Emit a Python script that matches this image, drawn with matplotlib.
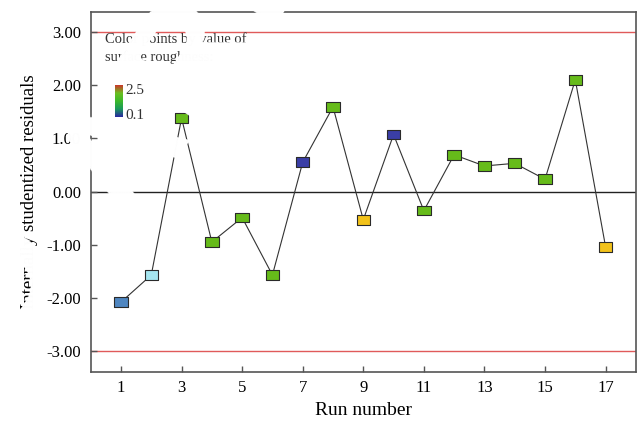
import matplotlib
matplotlib.use("Agg")
import matplotlib.pyplot as plt
import numpy as np
from matplotlib.path import Path
from matplotlib.colors import LinearSegmentedColormap

# ----------------------------
# Data
# ----------------------------

runs = [1, 2, 3, 4, 5, 6, 7, 8, 9, 10, 11, 12, 13, 14, 15, 16, 17]

residuals = [-2.08, -1.57, 1.38, -0.95, -0.49, -1.57, 0.55, 1.59, -0.53,
             1.07, -0.36, 0.69, 0.48, 0.53, 0.23, 2.10, -1.04]

point_colors = ["#4f86c0", "#a6e6f0", "#66bb1a", "#66bb1a", "#66bb1a",
                "#66bb1a", "#3a3ea6", "#66bb1a", "#f2c21a", "#3a3ea6",
                "#66bb1a", "#66bb1a", "#66bb1a", "#66bb1a", "#66bb1a",
                "#66bb1a", "#f2c21a"]

y_ticks = [-3, -2, -1, 0, 1, 2, 3]
x_ticks = [1, 3, 5, 7, 9, 11, 13, 15, 17]
limit = 3.0

legend_title = "Color points by value of\nsurface roughness:"
legend_hi = "2.5"
legend_lo = "0.1"

# watermark letters and their cap centres (pixels from top-left)
wm_letters = ["D", "A", "R", "E"]
wm_centres = [(-8, 268), (114, 150), (176, 47), (247, -48)]


def main():
    plt.rcParams["font.family"] = ["Liberation Serif", "DejaVu Serif"]

    W, H = 641, 423
    fig = plt.figure(figsize=(W / 100, H / 100), dpi=100)
    ax = fig.add_axes([0.1415, 0.121, 0.8505, 0.850])

    # reference lines
    ax.axhline(limit, color="#e05a5a", lw=1.0, zorder=1)
    ax.axhline(-limit, color="#e05a5a", lw=1.0, zorder=1)
    ax.axhline(0, color="#222222", lw=1.0, zorder=1)

    ax.plot(runs, residuals, color="#333333", lw=0.8, zorder=2)

    # wide square marker
    rect = Path([(-1.4, -1), (1.4, -1), (1.4, 1), (-1.4, 1), (-1.4, -1)],
                [Path.MOVETO, Path.LINETO, Path.LINETO, Path.LINETO, Path.CLOSEPOLY])
    ax.scatter(runs, residuals, marker=rect, s=95, c=point_colors,
               edgecolors="#2a2a2a", linewidths=0.8, zorder=3)

    ax.set_xlim(0, 18)
    ax.set_ylim(-3.39, 3.37)
    ax.set_xticks(x_ticks)
    ax.set_yticks(y_ticks)
    ax.set_yticklabels(["%.2f" % v for v in y_ticks])
    ax.tick_params(direction="in", length=4, width=1.0, color="#555555",
                   labelsize=12, pad=6)
    ax.tick_params(axis="y", pad=7)
    for s in ax.spines.values():
        s.set_color("#555555")
        s.set_linewidth(1.2)

    ax.set_xlabel("Run number", fontsize=14, labelpad=4)
    ax.set_ylabel("Internally studentized residuals", fontsize=13.5, labelpad=6)

    # colour legend
    fig.text(105 / W, 1 - 48 / H, legend_title, fontsize=10.5,
             color="#333333", va="center", ha="left", linespacing=1.45)
    cmap = LinearSegmentedColormap.from_list(
        "rough", ["#2a2aa0", "#1a9a5a", "#3cb82a", "#6ac020", "#c83a2a"])
    cax = fig.add_axes([115 / W, 1 - 117 / H, 8 / W, 32 / H])
    cax.imshow(np.linspace(1, 0, 50).reshape(-1, 1), cmap=cmap, aspect="auto")
    cax.set_axis_off()
    fig.text(125 / W, 1 - 91 / H, legend_hi, fontsize=11, color="#333333",
             va="center", ha="left")
    fig.text(125 / W, 1 - 115 / H, legend_lo, fontsize=11, color="#333333",
             va="center", ha="left")

    # white watermark lying over the plot
    angle = 57
    size_pt = 111
    half_cap = 0.358 * size_pt * 100 / 72
    t = np.radians(angle)
    for letter, (cx, cy) in zip(wm_letters, wm_centres):
        bx = cx + half_cap * np.sin(t)
        by = cy + half_cap * np.cos(t)
        fig.text(bx / W, 1 - by / H, letter, fontsize=size_pt, color="white",
                 family="Liberation Sans", weight="bold", rotation=angle,
                 rotation_mode="anchor", ha="center", va="baseline", zorder=10)

    fig.savefig("out.png", dpi=100)


if __name__ == "__main__":
    main()
